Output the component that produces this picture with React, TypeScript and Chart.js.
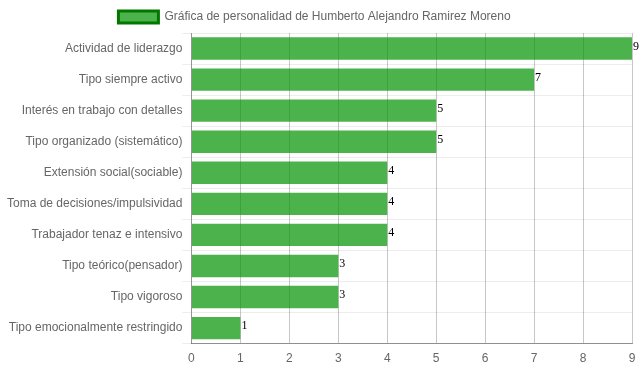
import React, { useEffect, useRef } from "react";
import { Chart, registerables } from "chart.js";

Chart.register(...registerables);

const categories = [
  "Actividad de liderazgo",
  "Tipo siempre activo",
  "Interés en trabajo con detalles",
  "Tipo organizado (sistemático)",
  "Extensión social(sociable)",
  "Toma de decisiones/impulsividad",
  "Trabajador tenaz e intensivo",
  "Tipo teórico(pensador)",
  "Tipo vigoroso",
  "Tipo emocionalmente restringido",
];
const values = [9, 7, 5, 5, 4, 4, 4, 3, 3, 1];
const seriesLabel = "Gráfica de personalidad de Humberto Alejandro Ramirez Moreno";

const FONT = "'Liberation Sans', Arial, sans-serif";

const valueLabels = {
  id: "valueLabels",
  afterDatasetsDraw(chart: any) {
    const ctx = chart.ctx;
    const meta = chart.getDatasetMeta(0);
    ctx.save();
    ctx.font = "12px 'Liberation Serif', serif";
    ctx.fillStyle = "#000";
    ctx.textAlign = "left";
    ctx.textBaseline = "alphabetic";
    meta.data.forEach((bar: any, i: number) => {
      ctx.fillText(String(values[i]), bar.x + 1, bar.y + 1);
    });
    ctx.restore();
  },
};

const legendShift = {
  id: "legendShift",
  afterLayout(chart: any) {
    const lg = chart.legend;
    if (lg) {
      lg.left -= 5;
      lg.right -= 5;
    }
  },
};

export default function App() {
  const ref = useRef<HTMLCanvasElement>(null);
  useEffect(() => {
    const chart = new Chart(ref.current!, {
      type: "bar",
      data: {
        labels: categories,
        datasets: [
          {
            label: seriesLabel,
            data: values,
            backgroundColor: "rgba(0,145,0,0.7)",
            borderWidth: 0,
          },
        ],
      },
      options: {
        indexAxis: "y",
        animation: false,
        responsive: false,
        maintainAspectRatio: false,
        layout: { padding: { left: 7, right: 7, top: 1, bottom: 6 } },
        plugins: {
          tooltip: { enabled: false },
          legend: {
            labels: {
              color: "#666",
              font: { family: FONT, size: 12 },
              boxWidth: 40,
              boxHeight: 12,
              generateLabels: () => [
                {
                  text: seriesLabel,
                  fillStyle: "rgba(0,145,0,0.7)",
                  strokeStyle: "rgb(0,120,0)",
                  lineWidth: 3,
                  hidden: false,
                  datasetIndex: 0,
                  fontColor: "#666",
                } as any,
              ],
            },
          },
        },
        scales: {
          x: {
            min: 0,
            max: 9,
            ticks: { stepSize: 1, color: "#666", padding: 0, font: { family: FONT, size: 12 } },
            grid: { color: "rgba(0,0,0,0.22)", tickColor: "rgba(0,0,0,0)", tickLength: 8 },
            border: { color: "rgba(0,0,0,0.4)" },
          },
          y: {
            ticks: { color: "#666", padding: 0, font: { family: FONT, size: 12 } },
            grid: { color: "rgba(0,0,0,0.07)", tickLength: 9 },
            border: { color: "rgba(0,0,0,0.25)" },
          },
        },
      },
      plugins: [valueLabels, legendShift],
    } as any);
    return () => chart.destroy();
  }, []);
  return (
    <div style={{ position: "fixed", left: 0, top: 0, width: 639, height: 372, background: "#fff" }}>
      <canvas ref={ref} width={639} height={372} style={{ display: "block" }} />
    </div>
  );
}
